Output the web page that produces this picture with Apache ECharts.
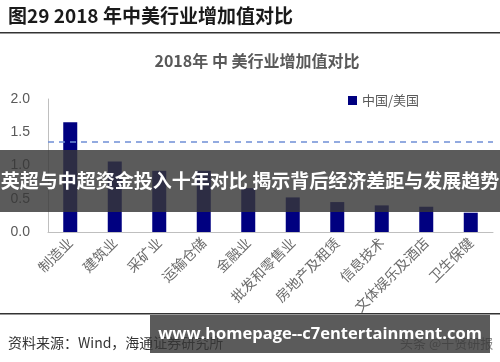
<!DOCTYPE html>
<html><head><meta charset="utf-8">
<script src="https://cdn.jsdelivr.net/npm/echarts@6/dist/echarts.min.js"></script>
<style>html,body{margin:0;padding:0;background:#fff}#c{width:500px;height:362px}</style>
</head><body><div id="c"></div>
<script>
var categories = ['制造业','建筑业','采矿业','运输仓储','金融业','批发和零售业','房地产及租赁','信息技术','文体娱乐及酒店','卫生保健'];
var ratioValues = [1.65, 1.06, 0.92, 0.92, 0.66, 0.52, 0.45, 0.40, 0.38, 0.29];
var referenceLevel = 1.36;
var yTicks = [0, 0.5, 1.0, 1.5, 2.0];
var seriesName = '中国/美国';

var chart = echarts.init(document.getElementById('c'));
var cjk = '"Noto Sans CJK SC", "Liberation Sans", sans-serif';
chart.setOption({
  animation: false,
  backgroundColor: '#fff',
  grid: {left: 48, right: 7, top: 99, bottom: 130, containLabel: false},
  legend: {
    data: [seriesName], left: 343, top: 89, itemWidth: 9, itemHeight: 9, itemGap: 5,
    icon: 'rect',
    textStyle: {color: '#595959', fontSize: 13, fontFamily: cjk}
  },
  xAxis: {
    type: 'category', data: categories,
    axisLine: {lineStyle: {color: '#bfbfbf', width: 1}},
    axisTick: {show: false},
    axisLabel: {rotate: 45, margin: 8, color: '#6b6b6b', fontSize: 14, fontFamily: cjk, interval: 0}
  },
  yAxis: {
    type: 'value', min: yTicks[0], max: yTicks[yTicks.length-1], interval: 0.5,
    axisLine: {show: true, lineStyle: {color: '#bfbfbf', width: 1}},
    axisTick: {show: false},
    splitLine: {show: false},
    axisLabel: {color: '#595959', fontSize: 14, fontFamily: '"Liberation Sans", Arial, sans-serif', margin: 18,
      formatter: function(v){return v.toFixed(1);}}
  },
  series: [{
    name: seriesName, type: 'bar', data: ratioValues, barWidth: 14,
    itemStyle: {color: '#000080'},
    markLine: {
      symbol: 'none', silent: true, label: {show: false},
      lineStyle: {color: '#6f8fd6', type: [6, 5], width: 1.5},
      data: [{yAxis: referenceLevel}]
    }
  }],
  graphic: [
    {type: 'text', left: 8, top: 6, style: {text: '图29 2018 年中美行业增加值对比', fill: '#1a1a1a', font: 'bold 19px ' + cjk}},
    {type: 'rect', shape: {x: 0, y: 32, width: 500, height: 1.5}, style: {fill: '#333'}},
    {type: 'text', x: 257, y: 61, style: {text: '2018年 中 美行业增加值对比', fill: '#595959', font: 'bold 16px ' + cjk, textAlign: 'center', textVerticalAlign: 'middle'}},
    {type: 'rect', shape: {x: 0, y: 313, width: 500, height: 1.5}, style: {fill: '#333'}},
    {type: 'text', left: 8, top: 336, style: {text: '资料来源：Wind，海通证券研究所', fill: '#333', font: '14px ' + cjk}},
    {type: 'text', left: 400, top: 337, style: {text: '头条 @千贤研报', fill: '#888', font: '13px ' + cjk}},
    {type: 'rect', z: 100, shape: {x: 0, y: 150, width: 500, height: 62}, style: {fill: 'rgba(55,55,55,0.82)'}},
    {type: 'text', z: 101, x: 250, y: 181, style: {text: '英超与中超资金投入十年对比 揭示背后经济差距与发展趋势', fill: '#fff', font: 'bold 19px ' + cjk, textAlign: 'center', textVerticalAlign: 'middle'}},
    {type: 'rect', z: 100, shape: {x: 150, y: 315, width: 340, height: 38}, style: {fill: 'rgba(55,55,55,0.82)'}},
    {type: 'text', z: 101, x: 320, y: 334, style: {text: 'www.homepage--c7entertainment.com', fill: '#fff', font: 'bold 16.5px "Open Sans", "DejaVu Sans", sans-serif', textAlign: 'center', textVerticalAlign: 'middle'}}
  ]
});
</script></body></html>
